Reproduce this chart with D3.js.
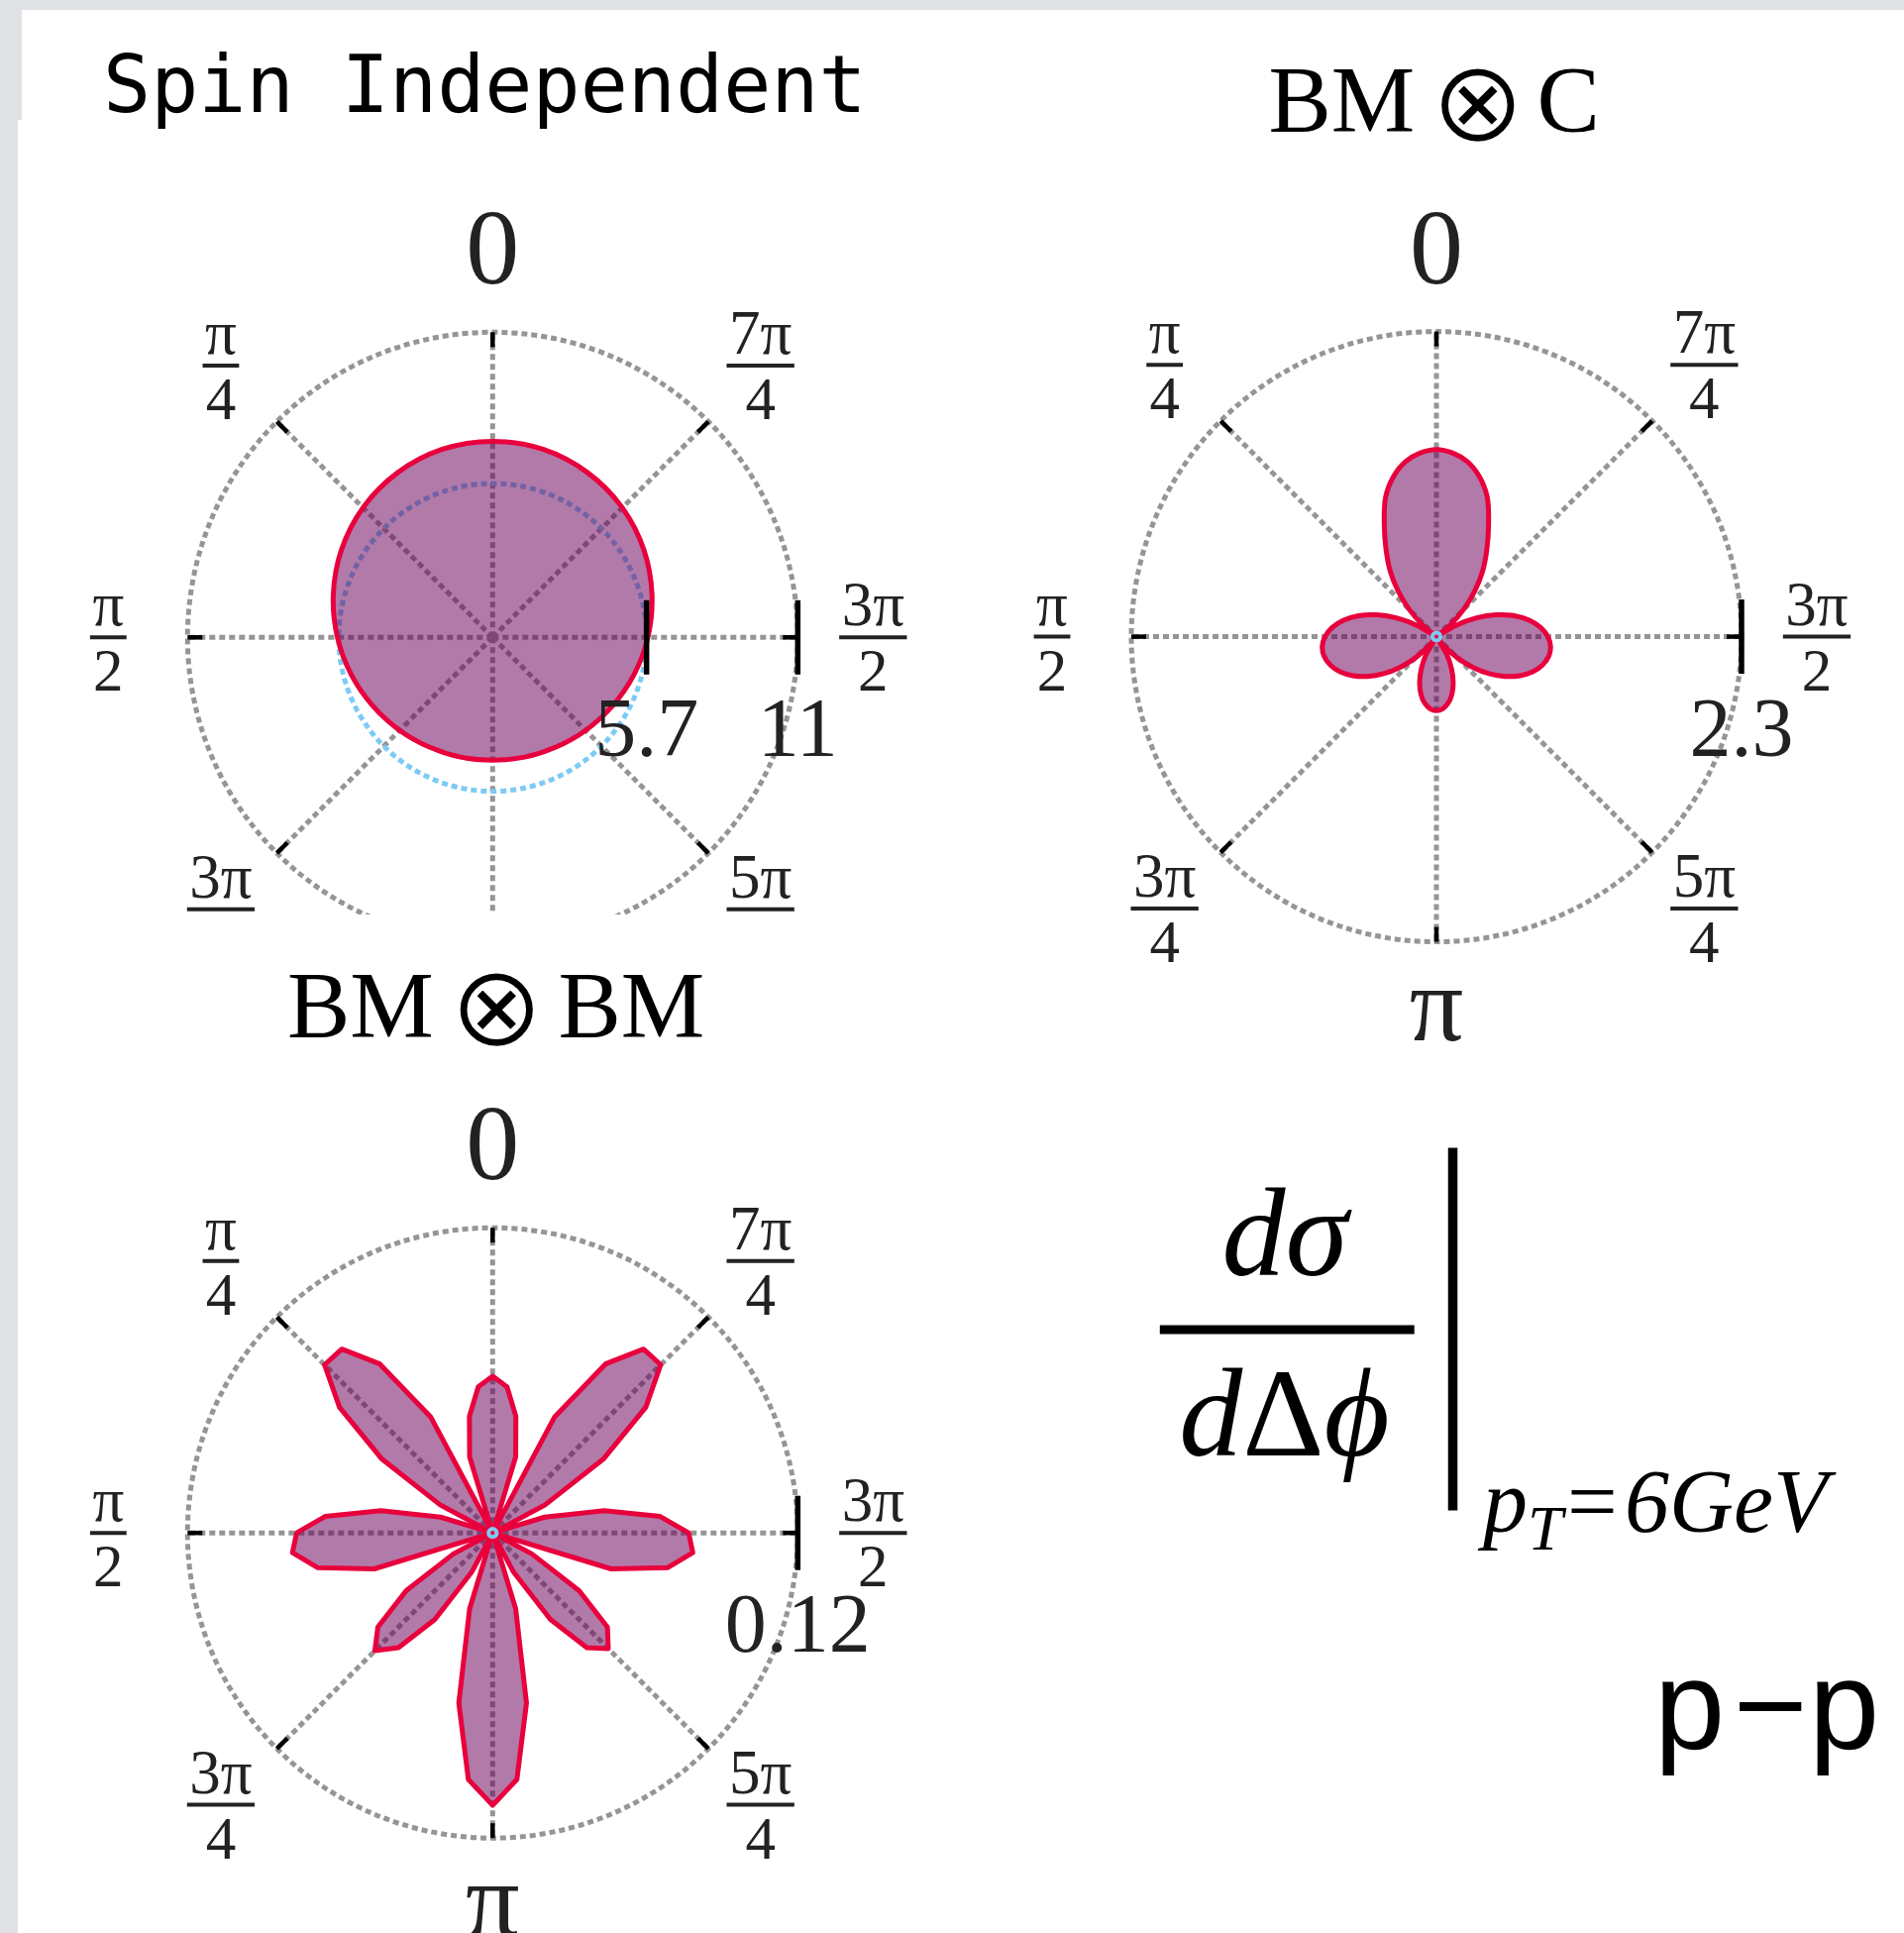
<!DOCTYPE html>
<html>
<head>
<meta charset="utf-8">
<script src="https://cdn.jsdelivr.net/npm/d3@7"></script>
<style>
  html, body { margin: 0; padding: 0; background: #fff; overflow: hidden; }
  svg { display: block; }
</style>
</head>
<body>
<svg id="fig" width="1922" height="1951"></svg>
<script>
// ---------- data ----------
// angular grid: 0 at top, increasing counter-clockwise
const angleTicks = [0, 45, 90, 135, 180, 225, 270, 315];
const angleTickLabels = [["0"], ["π", "4"], ["π", "2"], ["3π", "4"], ["π"], ["5π", "4"], ["3π", "2"], ["7π", "4"]];

// radial axes
const radialMax = [11.3, 2.3, 0.12];
const radialTicks = [[5.7, 11.3], [2.3], [0.12]];
const referenceLevel = [5.7, 0.03, 0.0016];

// sample angles (degrees) for each distribution
const anglesSI = d3.range(0, 360, 15);
const anglesBMC = d3.range(0, 360, 5);
const anglesBMBM = d3.range(0, 360, 5.625);

// spin independent term
const spinIndependent = [7.26, 7.21, 7.04, 6.79, 6.47, 6.11, 5.75, 5.41, 5.11, 4.87, 4.69, 4.59,
  4.55, 4.59, 4.69, 4.87, 5.11, 5.41, 5.75, 6.11, 6.47, 6.79, 7.04, 7.21];

// Boer-Mulders x Collins term
const bmC = [1.410, 1.390, 1.340, 1.250, 1.120, 0.930, 0.760, 0.610, 0.450, 0.290, 0.130, 0,
  0.171, 0.334, 0.481, 0.608, 0.711, 0.789, 0.840, 0.864, 0.859, 0.828, 0.773, 0.695,
  0.598, 0.485, 0.361, 0.230, 0.097, 0, 0.159, 0.272, 0.370, 0.450, 0.509, 0.545,
  0.557, 0.545, 0.509, 0.450, 0.370, 0.272, 0.159, 0, 0.097, 0.230, 0.361, 0.485,
  0.598, 0.695, 0.773, 0.828, 0.859, 0.864, 0.840, 0.789, 0.711, 0.608, 0.481, 0.334,
  0.171, 0, 0.130, 0.290, 0.450, 0.610, 0.760, 0.930, 1.120, 1.250, 1.340, 1.390];

// Boer-Mulders x Boer-Mulders term
const bmBM = [0.0616, 0.0577, 0.0468, 0.0312, 0, 0.0518, 0.0799, 0.0935,
  0.0935, 0.0779, 0.0526, 0.0234, 0, 0.0214, 0.0448, 0.0662,
  0.0771, 0.0791, 0.0701, 0.0487, 0, 0.0175, 0.0409, 0.0584,
  0.0655, 0.0584, 0.0409, 0.0175, 0, 0.0312, 0.0682, 0.0974,
  0.1071, 0.0974, 0.0682, 0.0312, 0, 0.0175, 0.0409, 0.0584,
  0.0643, 0.0584, 0.0409, 0.0175, 0, 0.0487, 0.0701, 0.0791,
  0.0771, 0.0662, 0.0448, 0.0214, 0, 0.0234, 0.0526, 0.0779,
  0.0935, 0.0935, 0.0799, 0.0518, 0, 0.0312, 0.0468, 0.0577];

// ---------- styles ----------
const R = 308;
const GRID = "#959595", RED = "#e8003d", FILL = "rgb(105,0,90)", BLUE = "#7ccbf4";
const DASH = "6,4";
const SERIF = "'Liberation Serif', 'Times New Roman', serif";

const svg = d3.select("#fig");
svg.append("rect").attr("width", 1922).attr("height", 1951).attr("fill", "#fff");

const defs = svg.append("defs");
defs.append("clipPath").attr("id", "clipTop")
  .append("rect").attr("x", 0).attr("y", 0).attr("width", 960).attr("height", 923);

const aScale = d3.scaleLinear().domain([0, 360]).range([0, 2 * Math.PI]);
const px = (deg, rad) => -rad * Math.sin(aScale(deg));
const py = (deg, rad) => -rad * Math.cos(aScale(deg));

function drawPanel(parent, cx, cy, angles, values, rMax, ticks, ref, curve) {
  const g = parent.append("g").attr("transform", `translate(${cx},${cy})`);
  const r = d3.scaleLinear().domain([0, rMax]).range([0, R]);

  // grid
  g.append("circle").attr("r", r(rMax)).attr("fill", "none")
    .attr("stroke", GRID).attr("stroke-width", 5).attr("stroke-dasharray", DASH);
  angleTicks.forEach(deg => {
    g.append("line").attr("x1", 0).attr("y1", 0)
      .attr("x2", px(deg, r(rMax))).attr("y2", py(deg, r(rMax)))
      .attr("stroke", GRID).attr("stroke-width", 5).attr("stroke-dasharray", DASH);
  });

  const refR = r(ref);
  const refOnTop = refR < 20;
  const drawRef = () => g.append("circle").attr("r", refR).attr("fill", "none")
    .attr("stroke", BLUE).attr("stroke-width", refOnTop ? 4 : 5)
    .attr("stroke-dasharray", refOnTop ? null : DASH);
  if (!refOnTop) drawRef();

  // distribution
  const pts = angles.map((d, i) => [d, values[i]]);
  const line = d3.lineRadial()
    .angle(d => -aScale(d[0]))
    .radius(d => r(d[1]))
    .curve(curve);
  g.append("path").attr("d", line(pts)).attr("fill", FILL).attr("fill-opacity", 0.52).attr("stroke", "none");
  g.append("path").attr("d", line(pts)).attr("fill", "none")
    .attr("stroke", RED).attr("stroke-width", 5).attr("stroke-linejoin", "round");

  if (refOnTop) drawRef();

  // angular ticks
  angleTicks.forEach(deg => {
    g.append("line")
      .attr("x1", px(deg, r(rMax) - 15)).attr("y1", py(deg, r(rMax) - 15))
      .attr("x2", px(deg, r(rMax))).attr("y2", py(deg, r(rMax)))
      .attr("stroke", "#000").attr("stroke-width", 4.5);
  });

  // radial ticks along 3π/2
  const fmt = d3.format(".2r");
  ticks.forEach(t => {
    g.append("line").attr("x1", r(t)).attr("x2", r(t)).attr("y1", -37.5).attr("y2", 37.5)
      .attr("stroke", "#000").attr("stroke-width", 5.5);
    g.append("text").attr("x", r(t)).attr("y", 120).attr("text-anchor", "middle")
      .attr("font-family", SERIF).attr("font-size", 84).attr("fill", "#222")
      .text(fmt(t));
  });

  // angular labels
  const LR = 388;
  angleTicks.forEach((deg, i) => {
    const lab = angleTickLabels[i];
    let lx = px(deg, LR), ly = py(deg, LR);
    if (lx > 1) lx -= 4;
    if (lab.length === 1) {
      const shift = lab[0] === "0" ? 31 : 19;
      g.append("text").attr("x", lx).attr("y", ly + shift).attr("text-anchor", "middle")
        .attr("font-family", SERIF).attr("font-size", 108).attr("fill", "#222").text(lab[0]);
    } else {
      const num = g.append("text").attr("x", lx).attr("y", ly - 12).attr("text-anchor", "middle")
        .attr("font-family", SERIF).attr("font-size", 63).attr("fill", "#222").text(lab[0]);
      const den = g.append("text").attr("x", lx).attr("y", ly + 54).attr("text-anchor", "middle")
        .attr("font-family", SERIF).attr("font-size", 61).attr("fill", "#222").text(lab[1]);
      const w = Math.max(num.node().getComputedTextLength(), den.node().getComputedTextLength()) + 5;
      g.append("line").attr("x1", lx - w / 2).attr("x2", lx + w / 2).attr("y1", ly).attr("y2", ly)
        .attr("stroke", "#222").attr("stroke-width", 4);
    }
  });
  return g;
}

// ---------- panels ----------
const topLeft = svg.append("g").attr("clip-path", "url(#clipTop)");
drawPanel(topLeft, 497.3, 643.3, anglesSI, spinIndependent, radialMax[0], radialTicks[0], referenceLevel[0],
  d3.curveCatmullRomClosed.alpha(0.5));
drawPanel(svg, 1450, 642.6, anglesBMC, bmC, radialMax[1], radialTicks[1], referenceLevel[1],
  d3.curveCatmullRomClosed.alpha(0.5));
drawPanel(svg, 497.3, 1547.2, anglesBMBM, bmBM, radialMax[2], radialTicks[2], referenceLevel[2],
  d3.curveLinearClosed);

// ---------- titles ----------
svg.append("text").attr("x", 104).attr("y", 113)
  .attr("font-family", "'DejaVu Sans Mono', monospace").attr("font-size", 80).attr("fill", "#000")
  .text("Spin Independent");

function otimesTitle(left, right, xLeft, xOt, xRight, base) {
  const t = svg.append("g");
  t.append("text").attr("x", xLeft).attr("y", base)
    .attr("font-family", SERIF).attr("font-size", 95).text(left);
  // a thin white outline slims the operator glyph a little
  t.append("text").attr("x", xOt).attr("y", base + 8.5).attr("text-anchor", "middle")
    .attr("font-family", "'DejaVu Sans', sans-serif").attr("font-size", 114)
    .attr("fill", "#000").attr("stroke", "#fff").attr("stroke-width", 1.5)
    .text("⊗");
  t.append("text").attr("x", xRight).attr("y", base)
    .attr("font-family", SERIF).attr("font-size", 95).text(right);
}
otimesTitle("BM", "C", 1280.5, 1491.7, 1551.5, 133);
otimesTitle("BM", "BM", 290, 501.3, 563.5, 1046.7);

// ---------- formula ----------
svg.append("text").attr("x", 1297).attr("y", 1287).attr("text-anchor", "middle")
  .attr("font-family", SERIF).attr("font-size", 128).attr("font-style", "italic").text("dσ");
svg.append("line").attr("x1", 1170.8).attr("x2", 1427.7).attr("y1", 1342).attr("y2", 1342)
  .attr("stroke", "#000").attr("stroke-width", 9);
const den = svg.append("text").attr("x", 1296.5).attr("y", 1469).attr("text-anchor", "middle")
  .attr("font-family", SERIF).attr("font-size", 128);
den.append("tspan").attr("font-style", "italic").text("d");
den.append("tspan").text("Δ");
den.append("tspan").attr("font-style", "italic").text("ϕ");
svg.append("line").attr("x1", 1466.5).attr("x2", 1466.5).attr("y1", 1158.6).attr("y2", 1524.4)
  .attr("stroke", "#000").attr("stroke-width", 9.5);
const sub = svg.append("text").attr("font-family", SERIF).attr("font-size", 90);
sub.append("tspan").attr("x", 1497).attr("y", 1546).attr("font-style", "italic").text("p");
sub.append("tspan").attr("x", 1542).attr("y", 1564).attr("font-style", "italic").attr("font-size", 64).text("T");
sub.append("tspan").attr("x", 1582).attr("y", 1546).text("=");
sub.append("tspan").attr("x", 1640).attr("y", 1546).attr("font-style", "italic").text("6GeV");

const pp = svg.append("text").attr("font-family", "'Liberation Sans', Arial, sans-serif").attr("font-size", 128);
pp.append("tspan").attr("x", 1670).attr("y", 1765).text("p");
pp.append("tspan").attr("x", 1750).attr("y", 1765).text("−");
pp.append("tspan").attr("x", 1826).attr("y", 1765).text("p");

// ---------- page frame ----------
const FRAME = "#e1e2e6";
svg.append("rect").attr("x", 0).attr("y", 0).attr("width", 1922).attr("height", 10).attr("fill", FRAME);
svg.append("rect").attr("x", 0).attr("y", 0).attr("width", 22).attr("height", 121).attr("fill", FRAME);
svg.append("rect").attr("x", 0).attr("y", 0).attr("width", 18).attr("height", 1951).attr("fill", FRAME);
</script>
</body>
</html>
